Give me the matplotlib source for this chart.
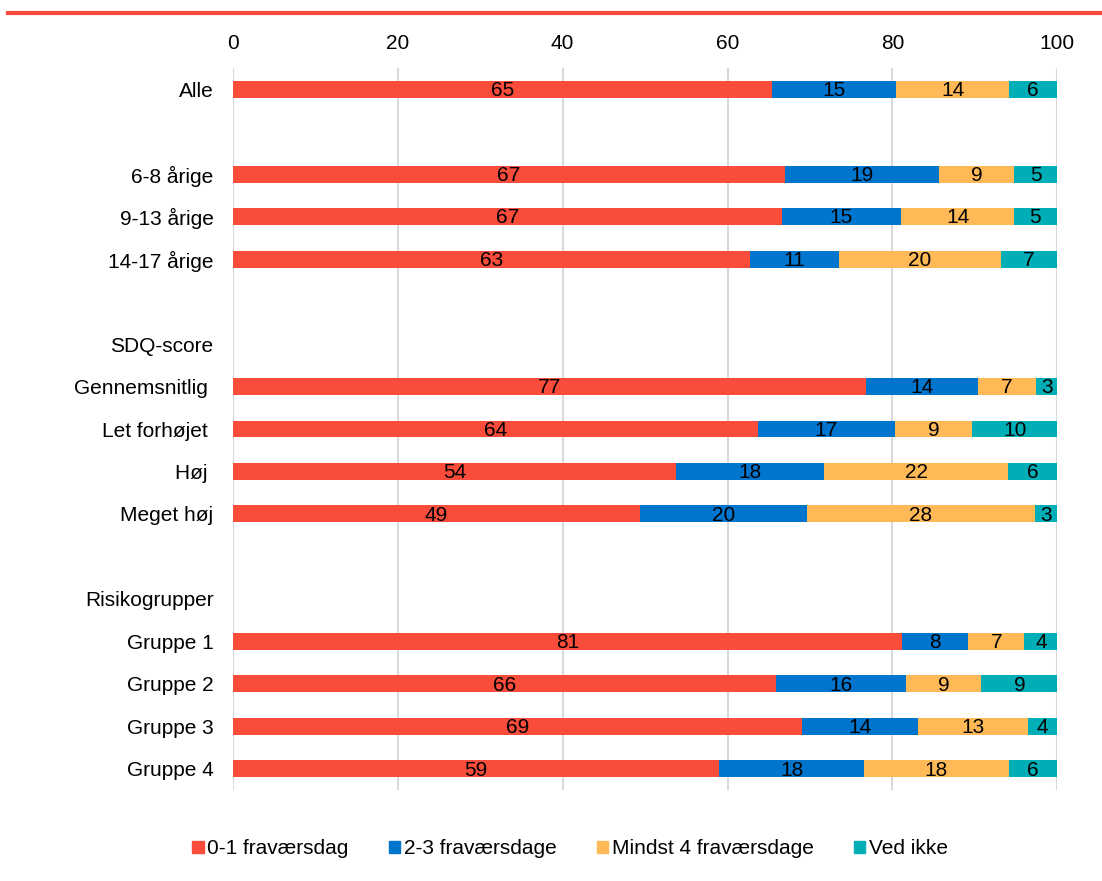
import matplotlib.pyplot as plt
from matplotlib.lines import Line2D
from matplotlib.patches import Patch
import numpy as np

plt.rcParams['font.family'] = ['Liberation Sans', 'DejaVu Sans']

# rows from top to bottom, '' = empty row
rows = ['Alle', '', '6-8 årige', '9-13 årige', '14-17 årige', '',
        'SDQ-score', 'Gennemsnitlig ', 'Let forhøjet ', 'Høj ', 'Meget høj',
        '', 'Risikogrupper', 'Gruppe 1', 'Gruppe 2', 'Gruppe 3', 'Gruppe 4']

serier = ['0-1 fraværsdag', '2-3 fraværsdage', 'Mindst 4 fraværsdage', 'Ved ikke']
farver = ['#F94C3B', '#0075CE', '#FFB957', '#00AEB7']

# andel i procent, None for rækker uden søjle
dag01 = [65.35, None, 66.96, 66.55, 62.75, None, None, 76.75, 63.7, 53.77, 49.4,
         None, None, 81.17, 65.91, 68.98, 59.0]
dag23 = [15.08, None, 18.74, 14.55, 10.8, None, None, 13.65, 16.6, 17.88, 20.2,
         None, None, 8.05, 15.71, 14.14, 17.55]
mindst4 = [13.73, None, 9.11, 13.6, 19.6, None, None, 7.04, 9.4, 22.43, 27.7,
           None, None, 6.8, 9.18, 13.27, 17.55]
vedikke = [5.84, None, 5.19, 5.3, 6.85, None, None, 2.56, 10.3, 5.92, 2.7,
           None, None, 3.98, 9.2, 3.61, 5.9]

data = [dag01, dag23, mindst4, vedikke]

fig = plt.figure(figsize=(11.02, 8.81), dpi=100)
ax = fig.add_axes([0.2114, 0.1033, 0.748, 0.8195])

y = np.arange(len(rows))
left = np.zeros(len(rows))
for serie, farve, vals in zip(serier, farver, data):
    v = np.array([0 if x is None else x for x in vals])
    ax.barh(y, v, left=left, height=0.4, color=farve, label=serie, zorder=2)
    for i, x in enumerate(vals):
        if x is not None:
            ax.text(left[i] + x / 2, y[i] + 0.03, '%d' % round(x), ha='center', va='center',
                    fontsize=15, color='black', zorder=3)
    left += v

ax.set_xlim(0, 100)
ax.set_ylim(len(rows) - 0.5, -0.5)
ax.set_xticks(range(0, 101, 20))
ax.xaxis.tick_top()
ax.set_yticks(y)
ax.set_yticklabels(rows)
ax.tick_params(axis='both', length=0, labelsize=15)
ax.tick_params(axis='x', pad=11)
ax.tick_params(axis='y', pad=14)
ax.grid(axis='x', color='#D9D9D9', linewidth=1.5, zorder=0)
ax.set_axisbelow(True)
for s in ax.spines.values():
    s.set_visible(False)

# rød streg øverst
fig.add_artist(Line2D([8 / 1102, 1.0], [1 - 13 / 881, 1 - 13 / 881],
                      color='#F94C3B', linewidth=3))

handles = [Patch(color=f) for f in farver]
fig.legend(handles, serier, loc='center', bbox_to_anchor=(570 / 1102, 1 - 849 / 881),
           ncol=4, frameon=False, fontsize=15, handlelength=0.55, handleheight=0.55,
           handletextpad=0.15, columnspacing=1.95)

fig.savefig('out.png', dpi=100)
